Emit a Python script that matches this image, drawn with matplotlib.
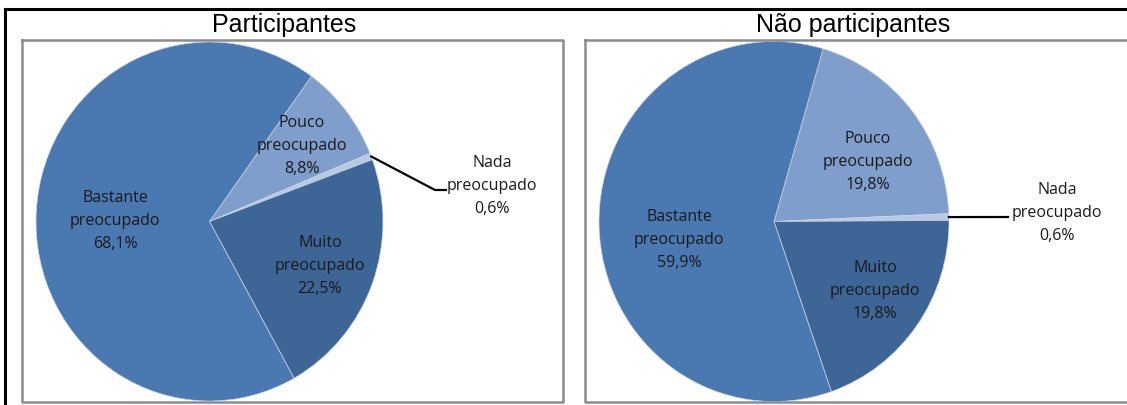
import matplotlib.pyplot as plt
import numpy as np

# data
categories = ["Pouco\npreocupado", "Nada\npreocupado", "Muito\npreocupado", "Bastante\npreocupado"]
part_values = [8.8, 0.6, 22.5, 68.1]
nao_part_values = [19.8, 0.6, 19.8, 59.9]
titles = ["Participantes", "Não participantes"]
colors = ["#7f9ecb", "#b8c9e2", "#3d6596", "#4a78b1"]

W, H = 1127, 406
fig = plt.figure(figsize=(W / 100, H / 100), dpi=100)

# pie geometry in pixels: centre x, centre y, radius x, radius y, start angle
pies = [(209.5, 222.5, 173.5, 179.5, 54.0), (774.0, 222.5, 175.0, 180.0, 73.7)]
# label positions (pixels) for each slice, in category order
label_pos = [
    [(302, 146), (492, 186), (320, 266), (115, 221)],
    [(868, 162), (1057, 213), (875, 291), (679, 240)],
]
leader_end = [[(435, 191), (446, 191)], [(1008, 218)]]

over = fig.add_axes([0, 0, 1, 1], zorder=2)
over.set_xlim(0, W)
over.set_ylim(H, 0)
over.axis("off")
over.patch.set_alpha(0)

# outer black frame and chart boxes
over.plot([5, W], [10, 10], color="black", lw=2.2)
over.plot([5, 5], [10, H], color="black", lw=2.2)
for x0, x1 in [(22, 563), (585, W + 5)]:
    over.plot([x0, x1, x1, x0, x0], [41, 41, 403, 403, 41], color="#8c8c8c", lw=1.8,
              clip_on=False)

for i, (cx, cy, rx, ry, start) in enumerate(pies):
    vals = part_values if i == 0 else nao_part_values
    ax = fig.add_axes([(cx - rx) / W, (H - cy - ry) / H, 2 * rx / W, 2 * ry / H], zorder=1)
    wedges, _ = ax.pie(vals, colors=colors, startangle=start, counterclock=False,
                       wedgeprops=dict(edgecolor="#c9d5e6", linewidth=0.5))
    ax.set_aspect("auto")
    ax.set_xlim(-1, 1)
    ax.set_ylim(-1, 1)

    for j, (cat, v) in enumerate(zip(categories, vals)):
        lx, ly = label_pos[i][j]
        over.text(lx, ly, f"{cat}\n{v:.1f}%".replace(".", ","), ha="center", va="center",
                  fontsize=11.5, family="Open Sans", color="#1a1a1a", linespacing=1.62)

    # leader line for the small "Nada" slice
    w = wedges[1]
    mid = np.deg2rad((w.theta1 + w.theta2) / 2)
    xs = [cx + rx * np.cos(mid)] + [p[0] for p in leader_end[i]]
    ys = [cy - ry * np.sin(mid)] + [p[1] for p in leader_end[i]]
    over.plot(xs, ys, color="black", lw=1.6)

    over.text((284, 853)[i], 25, titles[i], ha="center", va="center",
              fontsize=18, family="Liberation Sans", color="black")

fig.savefig("out.png", dpi=100)
plt.close(fig)
